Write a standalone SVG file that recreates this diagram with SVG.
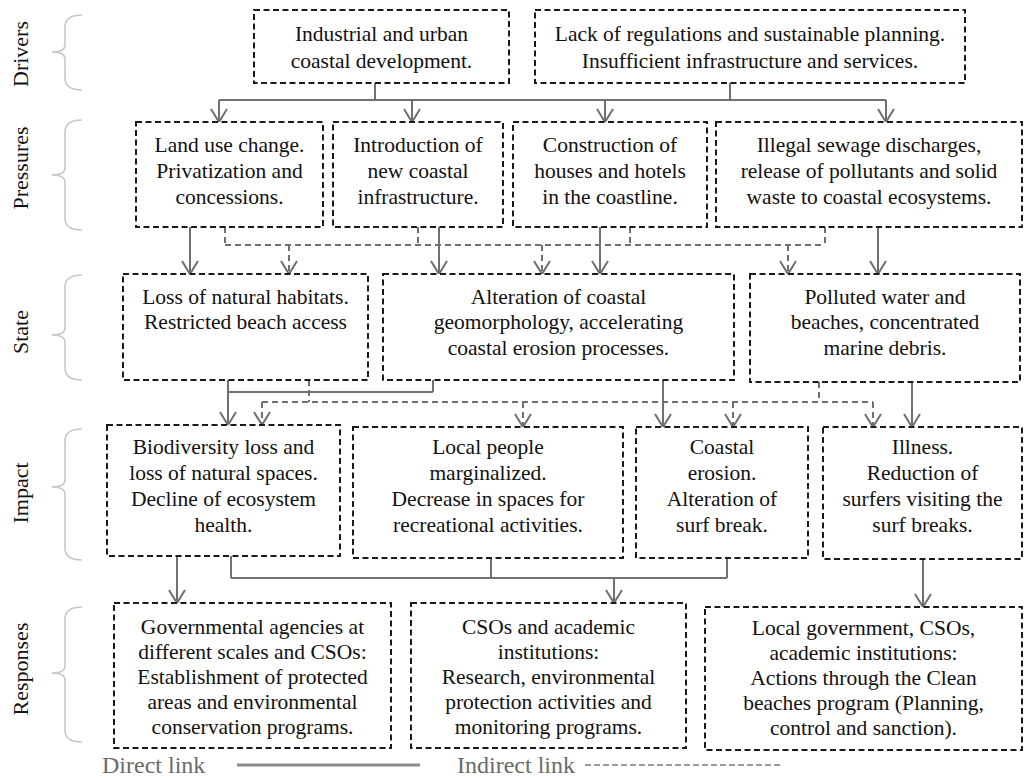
<svg xmlns="http://www.w3.org/2000/svg" width="1032" height="778" viewBox="0 0 1032 778">
<defs>
<style>
.box{fill:#fff;stroke:#1a1a1a;stroke-width:2;stroke-dasharray:6 3.5}
.t{font-size:21.5px;fill:#111;text-anchor:middle;dominant-baseline:central}
.lab{font-size:22px;fill:#111;text-anchor:middle;dominant-baseline:central}
.br{fill:none;stroke:#c8c8c8;stroke-width:1.6}
.c{fill:none;stroke:#707070;stroke-width:2}
.d{stroke-dasharray:6 4}
.a{marker-end:url(#ah)}
.leg{font-size:24px;fill:#6a6a6a}
</style>
<marker id="ah" markerUnits="userSpaceOnUse" markerWidth="20" markerHeight="20" viewBox="-16 -10 20 20" refX="0" refY="0" orient="auto" overflow="visible">
<path d="M-13,-8 L0,0 L-13,8" fill="none" stroke="#707070" stroke-width="2"/>
</marker>
</defs>
<rect width="1032" height="778" fill="#fff"/>
<g font-family="Liberation Serif, DejaVu Serif, serif">
<g id="labels">
<text class="lab" transform="rotate(-90 20 54)" x="20" y="54">Drivers</text>
<text class="lab" transform="rotate(-90 20 168)" x="20" y="168">Pressures</text>
<text class="lab" transform="rotate(-90 20 332)" x="20" y="332">State</text>
<text class="lab" transform="rotate(-90 20 493)" x="20" y="493">Impact</text>
<text class="lab" transform="rotate(-90 20 669)" x="20" y="669">Responses</text>
<path class="br" d="M82,15 Q65,15 65,27 L65,45 Q65,52 52,52 Q65,52 65,59 L65,78 Q65,90 82,90"/>
<path class="br" d="M82,120 Q65,120 65,132 L65,168 Q65,175 52,175 Q65,175 65,182 L65,218 Q65,230 82,230"/>
<path class="br" d="M82,275 Q65,275 65,287 L65,328 Q65,335 52,335 Q65,335 65,342 L65,368 Q65,380 82,380"/>
<path class="br" d="M82,429 Q65,429 65,441 L65,480 Q65,487 52,487 Q65,487 65,494 L65,548 Q65,560 82,560"/>
<path class="br" d="M82,607 Q65,607 65,619 L65,666 Q65,673 52,673 Q65,673 65,680 L65,730 Q65,742 82,742"/>
</g>

<g id="connectors">
<path class="c" d="M375,83 V100"/>
<path class="c" d="M730,83 V100"/>
<path class="c" d="M219,100 H886"/>
<path class="c a" d="M219,100 V122"/>
<path class="c a" d="M412,100 V122"/>
<path class="c a" d="M605,100 V122"/>
<path class="c a" d="M886,100 V122"/>

<path class="c a" d="M190,227 V274"/>
<path class="c a" d="M439,227 V274"/>
<path class="c a" d="M600,227 V274"/>
<path class="c a" d="M878,227 V274"/>
<path class="c d" d="M225,227 V245"/>
<path class="c d" d="M418,227 V245"/>
<path class="c d" d="M630,227 V245"/>
<path class="c d" d="M825,227 V245"/>
<path class="c d" d="M225,245 H825"/>
<path class="c d a" d="M289,245 V274"/>
<path class="c d a" d="M542,245 V274"/>
<path class="c d a" d="M788,245 V274"/>

<path class="c a" d="M228,380 V425"/>
<path class="c" d="M228,392 H433"/>
<path class="c" d="M433,380 V392"/>
<path class="c a" d="M663,380 V427"/>
<path class="c a" d="M912,382 V427"/>
<path class="c d" d="M309,380 V402"/>
<path class="c d" d="M819,382 V402"/>
<path class="c d" d="M262,402 H873"/>
<path class="c d a" d="M262,402 V425"/>
<path class="c d a" d="M523,402 V427"/>
<path class="c d a" d="M733,402 V427"/>
<path class="c d a" d="M873,402 V427"/>

<path class="c a" d="M177,556 V603"/>
<path class="c" d="M231,556 V578"/>
<path class="c" d="M491,558 V578"/>
<path class="c" d="M727,558 V578"/>
<path class="c" d="M231,578 H727"/>
<path class="c a" d="M614,578 V603"/>
<path class="c a" d="M923,559 V607"/>
</g>

<g id="d1"><rect class="box" x="254" y="10" width="255" height="73"/>
<text class="t" x="381.5" y="34">Industrial and urban</text>
<text class="t" x="381.5" y="61">coastal development.</text></g>
<g id="d2"><rect class="box" x="535" y="10" width="430" height="73"/>
<text class="t" x="750" y="34">Lack of regulations and sustainable planning.</text>
<text class="t" x="750" y="61">Insufficient infrastructure and services.</text></g>

<g id="p1"><rect class="box" x="136" y="122" width="187" height="105"/>
<text class="t" x="229.5" y="145">Land use change.</text>
<text class="t" x="229.5" y="171">Privatization and</text>
<text class="t" x="229.5" y="197">concessions.</text></g>
<g id="p2"><rect class="box" x="333" y="122" width="170" height="105"/>
<text class="t" x="418" y="145">Introduction of</text>
<text class="t" x="418" y="171">new coastal</text>
<text class="t" x="418" y="197">infrastructure.</text></g>
<g id="p3"><rect class="box" x="513" y="122" width="194" height="105"/>
<text class="t" x="610" y="145">Construction of</text>
<text class="t" x="610" y="171">houses and hotels</text>
<text class="t" x="610" y="197">in the coastline.</text></g>
<g id="p4"><rect class="box" x="716" y="122" width="306" height="105"/>
<text class="t" x="869" y="145">Illegal sewage discharges,</text>
<text class="t" x="869" y="171">release of pollutants and solid</text>
<text class="t" x="869" y="197">waste to coastal ecosystems.</text></g>

<g id="s1"><rect class="box" x="123" y="274" width="245" height="106"/>
<text class="t" x="245.5" y="297">Loss of natural habitats.</text>
<text class="t" x="245.5" y="322">Restricted beach access</text></g>
<g id="s2"><rect class="box" x="383" y="274" width="351" height="106"/>
<text class="t" x="558.5" y="297">Alteration of coastal</text>
<text class="t" x="558.5" y="322">geomorphology, accelerating</text>
<text class="t" x="558.5" y="348">coastal erosion processes.</text></g>
<g id="s3"><rect class="box" x="750" y="274" width="270" height="108"/>
<text class="t" x="885" y="297">Polluted water and</text>
<text class="t" x="885" y="322">beaches, concentrated</text>
<text class="t" x="885" y="348">marine debris.</text></g>

<g id="i1"><rect class="box" x="107" y="425" width="233" height="131"/>
<text class="t" x="223.5" y="447">Biodiversity loss and</text>
<text class="t" x="223.5" y="473">loss of natural spaces.</text>
<text class="t" x="223.5" y="499">Decline of ecosystem</text>
<text class="t" x="223.5" y="525">health.</text></g>
<g id="i2"><rect class="box" x="353" y="427" width="270" height="131"/>
<text class="t" x="488" y="447">Local people</text>
<text class="t" x="488" y="473">marginalized.</text>
<text class="t" x="488" y="499">Decrease in spaces for</text>
<text class="t" x="488" y="525">recreational activities.</text></g>
<g id="i3"><rect class="box" x="636" y="427" width="172" height="131"/>
<text class="t" x="722" y="447">Coastal</text>
<text class="t" x="722" y="473">erosion.</text>
<text class="t" x="722" y="499">Alteration of</text>
<text class="t" x="722" y="525">surf break.</text></g>
<g id="i4"><rect class="box" x="823" y="427" width="199" height="132"/>
<text class="t" x="922.5" y="447">Illness.</text>
<text class="t" x="922.5" y="473">Reduction of</text>
<text class="t" x="922.5" y="499">surfers visiting the</text>
<text class="t" x="922.5" y="525">surf breaks.</text></g>

<g id="r1"><rect class="box" x="114" y="603" width="277" height="145"/>
<text class="t" x="252.5" y="627">Governmental agencies at</text>
<text class="t" x="252.5" y="652">different scales and CSOs:</text>
<text class="t" x="252.5" y="677">Establishment of protected</text>
<text class="t" x="252.5" y="702">areas and environmental</text>
<text class="t" x="252.5" y="727">conservation programs.</text></g>
<g id="r2"><rect class="box" x="411" y="603" width="275" height="145"/>
<text class="t" x="548.5" y="627">CSOs and academic</text>
<text class="t" x="548.5" y="652">institutions:</text>
<text class="t" x="548.5" y="677">Research, environmental</text>
<text class="t" x="548.5" y="702">protection activities and</text>
<text class="t" x="548.5" y="727">monitoring programs.</text></g>
<g id="r3"><rect class="box" x="705" y="607" width="317" height="143"/>
<text class="t" x="863.5" y="628">Local government, CSOs,</text>
<text class="t" x="863.5" y="653">academic institutions:</text>
<text class="t" x="863.5" y="678">Actions through the Clean</text>
<text class="t" x="863.5" y="703">beaches program (Planning,</text>
<text class="t" x="863.5" y="728">control and sanction).</text></g>

<g id="legend">
<text class="leg" x="102" y="773">Direct link</text>
<path d="M237,765 H420" stroke="#8a8a8a" stroke-width="3" fill="none"/>
<text class="leg" x="457" y="773">Indirect link</text>
<path d="M585,765 H780" stroke="#9a9a9a" stroke-width="2" stroke-dasharray="6 3" fill="none"/>
</g>
</g>
</svg>
